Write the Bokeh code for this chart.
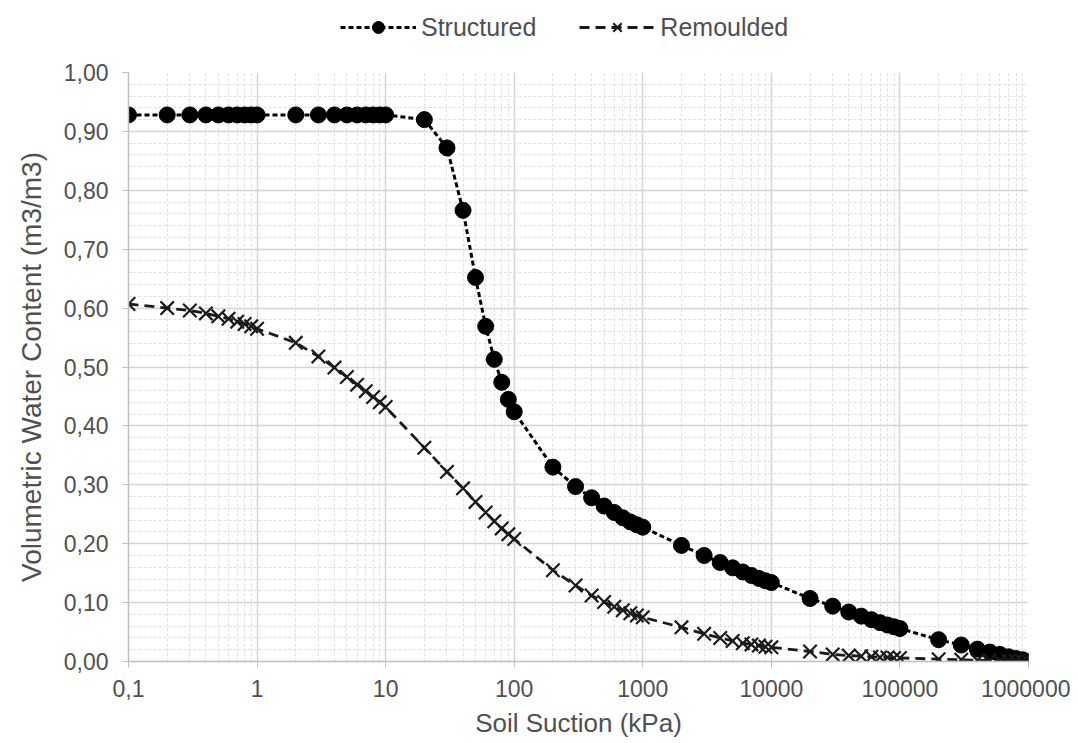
from bokeh.plotting import figure
from bokeh.layouts import column
from bokeh.models import (FixedTicker, CustomJSTickFormatter, Legend, LegendItem,
                          ColumnDataSource, SingleIntervalTicker)
from bokeh.embed import file_html
from bokeh.resources import INLINE

# ---------------- data ----------------
suction = [0.1, 0.2, 0.3, 0.4, 0.5, 0.6, 0.7, 0.8, 0.9,
           1, 2, 3, 4, 5, 6, 7, 8, 9,
           10, 20, 30, 40, 50, 60, 70, 80, 90,
           100, 200, 300, 400, 500, 600, 700, 800, 900,
           1000, 2000, 3000, 4000, 5000, 6000, 7000, 8000, 9000,
           10000, 20000, 30000, 40000, 50000, 60000, 70000, 80000, 90000,
           100000, 200000, 300000, 400000, 500000, 600000, 700000, 800000, 900000,
           1000000]

structured = [0.928, 0.928, 0.928, 0.928, 0.928, 0.928, 0.928, 0.928, 0.928,
              0.928, 0.928, 0.928, 0.928, 0.928, 0.928, 0.928, 0.928, 0.928,
              0.928, 0.920, 0.872, 0.766, 0.652, 0.569, 0.513, 0.474, 0.445,
              0.424, 0.330, 0.297, 0.278, 0.264, 0.253, 0.244, 0.237, 0.232,
              0.228, 0.197, 0.180, 0.168, 0.159, 0.152, 0.146, 0.141, 0.137,
              0.134, 0.107, 0.094, 0.084, 0.077, 0.071, 0.066, 0.062, 0.059,
              0.056, 0.037, 0.028, 0.021, 0.016, 0.012, 0.008, 0.005, 0.003,
              0.000]

remoulded = [0.607, 0.600, 0.596, 0.591, 0.586, 0.582, 0.577, 0.573, 0.569,
             0.565, 0.541, 0.518, 0.499, 0.483, 0.470, 0.459, 0.449, 0.440,
             0.432, 0.363, 0.322, 0.294, 0.271, 0.253, 0.238, 0.226, 0.216,
             0.208, 0.155, 0.129, 0.112, 0.101, 0.093, 0.087, 0.082, 0.078,
             0.075, 0.058, 0.047, 0.040, 0.035, 0.031, 0.029, 0.027, 0.025,
             0.024, 0.017, 0.012, 0.010, 0.009, 0.008, 0.007, 0.007, 0.006,
             0.006, 0.004, 0.003, 0.002, 0.002, 0.001, 0.001, 0.001, 0.000,
             0.000]

x_major = [0.1, 1, 10, 100, 1000, 10000, 100000, 1000000]
series_names = ["Structured", "Remoulded"]
x_title = "Soil Suction (kPa)"
y_title = "Volumetric Water Content (m3/m3)"

# ---------------- styles ----------------
FONT = "Liberation Sans"
GREY_TXT = "#505050"
S_LINE = dict(line_color="black", line_width=3, line_dash="5 3")
S_MARK = dict(marker="circle", size=16, fill_color="black", line_color="black")
R_LINE = dict(line_color="#1a1a1a", line_width=2.8, line_dash="10 6")
R_MARK = dict(marker="x", size=19, line_color="#1a1a1a", line_width=2.2)

# ---------------- main figure ----------------
p = figure(width=1070, height=693, x_axis_type="log",
           x_range=(0.1, 1000000), y_range=(0, 1.0),
           output_backend="svg", toolbar_location=None,
           min_border_left=128, min_border_right=42,
           min_border_top=22, min_border_bottom=82)
p.outline_line_color = None
p.background_fill_color = "white"
p.border_fill_color = "white"

x_minor = [m * d for d in x_major[:-1] for m in range(2, 10)]
p.xaxis.ticker = FixedTicker(ticks=x_major, minor_ticks=x_minor)
p.yaxis.ticker = SingleIntervalTicker(interval=0.1, num_minor_ticks=5)

p.xaxis.formatter = CustomJSTickFormatter(code="""
    if (tick < 0.999) { return tick.toFixed(1).replace('.', ','); }
    return Math.round(tick).toString();
""")
p.yaxis.formatter = CustomJSTickFormatter(code="""
    return tick.toFixed(2).replace('.', ',');
""")

for ax in (p.xaxis[0], p.yaxis[0]):
    ax.axis_line_color = "#bfbfbf"
    ax.axis_line_width = 1.5
    ax.major_tick_line_color = "#bfbfbf"
    ax.major_tick_out = 6
    ax.major_tick_in = 0
    ax.minor_tick_out = 0
    ax.minor_tick_in = 0
    ax.major_label_text_font = FONT
    ax.major_label_text_font_size = "23px"
    ax.major_label_text_color = GREY_TXT
    ax.axis_label_text_font = FONT
    ax.axis_label_text_font_style = "normal"
    ax.axis_label_text_color = GREY_TXT

p.xaxis.axis_label_text_font_size = "26px"
p.yaxis.axis_label_text_font_size = "28px"
p.xaxis.axis_label = x_title
p.yaxis.axis_label = y_title
p.xaxis.major_label_standoff = 12
p.xaxis.axis_label_standoff = 8
p.yaxis.major_label_standoff = 14
p.yaxis.axis_label_standoff = 14

for g in (p.xgrid[0], p.ygrid[0]):
    g.grid_line_color = "#d4d4d4"
    g.grid_line_width = 1.5
    g.minor_grid_line_color = "#dedede"
    g.minor_grid_line_width = 1
    g.minor_grid_line_dash = "3 2"

src = ColumnDataSource(dict(x=suction, s=structured, r=remoulded))
p.line("x", "s", source=src, **S_LINE)
p.scatter("x", "s", source=src, **S_MARK)
p.line("x", "r", source=src, **R_LINE)
p.scatter("x", "r", source=src, **R_MARK)

# ---------------- legend strip (above the chart) ----------------
# same data, but the strip's ranges keep every point out of view:
# only the legend glyphs are visible
lg = figure(width=1070, height=50, output_backend="svg", toolbar_location=None,
            x_range=(-20, -10), y_range=(-20, -10), min_border=0,
            x_axis_location=None, y_axis_location=None)
lg.outline_line_color = None
lg.grid.visible = False
a1 = lg.line("x", "s", source=src, **S_LINE)
b1 = lg.scatter("x", "s", source=src, **S_MARK)
a2 = lg.line("x", "r", source=src, **R_LINE)
b2 = lg.scatter("x", "r", source=src, **R_MARK)

legend = Legend(items=[LegendItem(label=series_names[0], renderers=[a1, b1]),
                       LegendItem(label=series_names[1], renderers=[a2, b2])],
                orientation="horizontal", location=(212, 8),
                border_line_color=None, background_fill_alpha=0,
                padding=0, margin=0, spacing=43, label_standoff=5,
                glyph_width=76, glyph_height=30, label_height=30,
                label_text_font=FONT, label_text_font_size="25px",
                label_text_color=GREY_TXT)
lg.add_layout(legend, "center")

layout = column(lg, p, spacing=0)
open("out.html", "w").write(file_html(layout, INLINE))
